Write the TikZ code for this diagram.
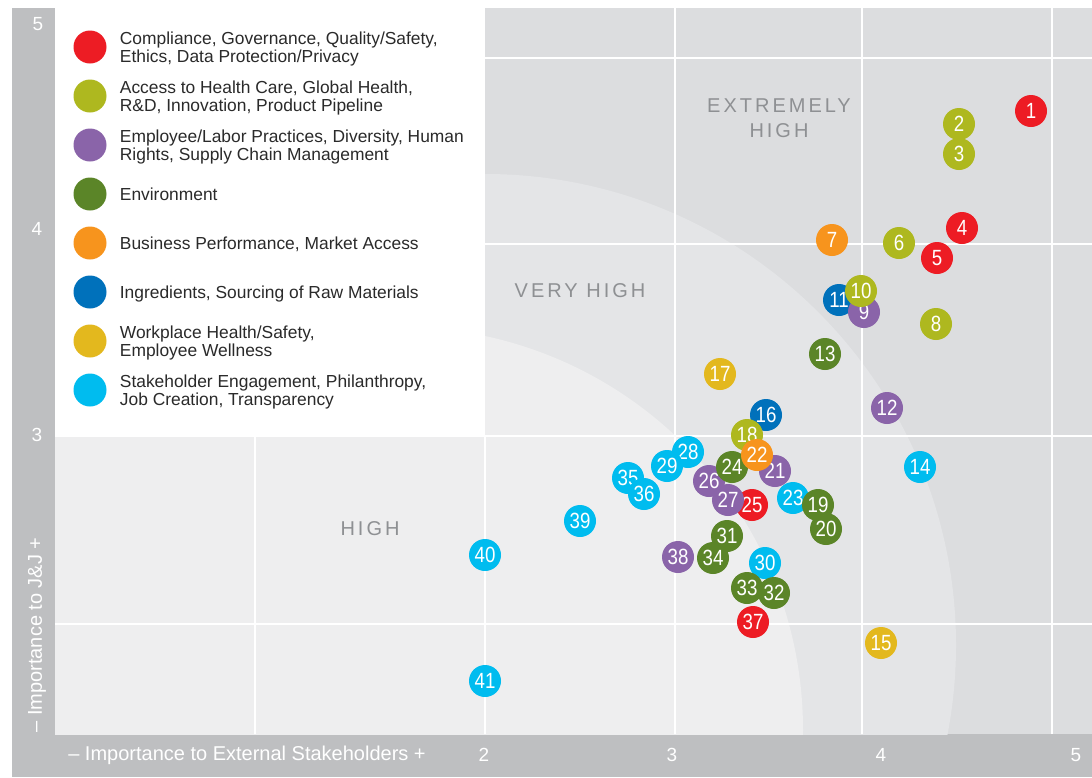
\documentclass[tikz,border=0pt]{standalone}
\usepackage{fontspec}
\setmainfont{Liberation Sans}
\newfontfamily\numfont[FakeStretch=0.85]{Liberation Sans}
\newfontfamily\zonefont[LetterSpace=15]{Liberation Sans}
\usetikzlibrary{positioning}

\definecolor{cRed}{HTML}{ED1C24}
\definecolor{cLime}{HTML}{AEB81F}
\definecolor{cPurple}{HTML}{8A64A9}
\definecolor{cGreen}{HTML}{5B8528}
\definecolor{cOrange}{HTML}{F7941D}
\definecolor{cBlue}{HTML}{0071BB}
\definecolor{cGold}{HTML}{E3B81E}
\definecolor{cCyan}{HTML}{00BCEF}
\definecolor{barGray}{HTML}{BEBFC1}
\definecolor{zoneTop}{HTML}{DCDDDF}
\definecolor{zoneMid}{HTML}{E4E5E7}
\definecolor{zoneLow}{HTML}{EEEEEF}
\definecolor{zoneText}{HTML}{8E9093}
\definecolor{keyText}{HTML}{2A2A2A}

\tikzset{
    issue/.style={circle, minimum size=32pt, inner sep=0pt, text=white, font=\numfont\fontsize{22}{22}\selectfont},
    keydot/.style={circle, minimum size=33pt, inner sep=0pt},
    keytext/.style={align=left, inner sep=0pt, text depth=0pt, text=keyText, font=\fontsize{17.4}{18}\selectfont},
    zonelabel/.style={text=zoneText, align=center, font=\zonefont\fontsize{20}{25}\selectfont},
    ticklabel/.style={text=white, font=\fontsize{19}{19}\selectfont},
    axistitle/.style={text=white, font=\fontsize{20}{20}\selectfont},
    gridline/.style={white, line width=1.5pt}
}

\begin{document}
\begin{tikzpicture}[x=1pt, y=-1pt]
    \useasboundingbox (0,0) rectangle (1092,777);

    % axis bars
    \fill[barGray] (12,8) rectangle (55,777);
    \fill[barGray] (12,734) rectangle (1092,777);

    % zones
    \fill[zoneTop] (55,8) rectangle (1092,734);
    \begin{scope}
        \clip (55,8) rectangle (1092,734);
        \fill[zoneMid] (485,645) circle[radius=471pt];
        \fill[zoneLow] (400,730) circle[radius=403pt];
    \end{scope}
    \fill[zoneLow] (55,436) rectangle (485,734);

    \foreach \gx in {675,862,1052}
        \draw[gridline] (\gx,8) -- (\gx,734);
    \foreach \gx in {255,485}
        \draw[gridline] (\gx,436) -- (\gx,734);
    \foreach \gy in {58,244}
        \draw[gridline] (485,\gy) -- (1092,\gy);
    \foreach \gy in {436,624}
        \draw[gridline] (55,\gy) -- (1092,\gy);

    % legend
    \fill[white] (55,0) rectangle (485,436);
    \foreach \col/\txt [count=\i] in {
        cRed/{Compliance, Governance, Quality/Safety,\\Ethics, Data Protection/Privacy},
        cLime/{Access to Health Care, Global Health,\\R\&D, Innovation, Product Pipeline},
        cPurple/{Employee/Labor Practices, Diversity, Human\\Rights, Supply Chain Management},
        cGreen/{Environment},
        cOrange/{Business Performance, Market Access},
        cBlue/{Ingredients, Sourcing of Raw Materials},
        cGold/{Workplace Health/Safety,\\Employee Wellness},
        cCyan/{Stakeholder Engagement, Philanthropy,\\Job Creation, Transparency}} {
        \node[keydot, fill=\col] (key\i) at (90,{47+49*(\i-1)}) {};
        \node[keytext, right=13pt of key\i] (label\i) {\txt};
    }

    \node[zonelabel] (extreme) at (779,118) {EXTREMELY\\HIGH};
    \node[zonelabel] (veryhigh) at (580,291) {VERY HIGH};
    \node[zonelabel] (high) at (370,529) {HIGH};

    % ticks and axis titles
    \node[ticklabel] (y5) at (38,24) {5};
    \node[ticklabel] (y4) at (37,229) {4};
    \node[ticklabel] (y3) at (37,435) {3};
    \node[ticklabel] (x2) at (484,755) {2};
    \node[ticklabel] (x3) at (672,755) {3};
    \node[ticklabel] (x4) at (881,755) {4};
    \node[ticklabel] (x5) at (1076,755) {5};
    \node[axistitle] (xtitle) at (247,755) {– Importance to External Stakeholders +};
    \node[axistitle, rotate=90] (ytitle) at (37,635) {– Importance to J\&J +};

    % issues, drawn back to front
    \foreach \n/\px/\py/\col in {
        1/1031/111/cRed, 2/959/124/cLime, 3/959/154/cLime, 4/962/228/cRed,
        5/937/258/cRed, 6/899/243/cLime, 7/832/240/cOrange, 8/936/324/cLime,
        11/839/300/cBlue, 9/864/312/cPurple, 10/861/291/cLime, 12/887/408/cPurple,
        13/825/354/cGreen, 14/920/467/cCyan, 15/881/643/cGold, 16/766/415/cBlue,
        17/720/374/cGold, 26/709/481/cPurple, 24/732/467/cGreen, 18/747/435/cLime,
        21/775/471/cPurple, 22/757/455/cOrange, 23/793/498/cCyan, 19/818/505/cGreen,
        20/826/529/cGreen, 25/752/505/cRed, 27/728/500/cPurple, 28/688/452/cCyan,
        29/667/466/cCyan, 30/765/563/cCyan, 31/727/536/cGreen, 33/747/588/cGreen,
        32/774/593/cGreen, 34/713/558/cGreen, 35/628/478/cCyan, 36/644/494/cCyan,
        37/753/622/cRed, 38/678/557/cPurple, 39/580/521/cCyan, 40/485/555/cCyan,
        41/485/681/cCyan}
        \node[issue, fill=\col] (p\n) at (\px,\py) {\n};
\end{tikzpicture}
\end{document}
